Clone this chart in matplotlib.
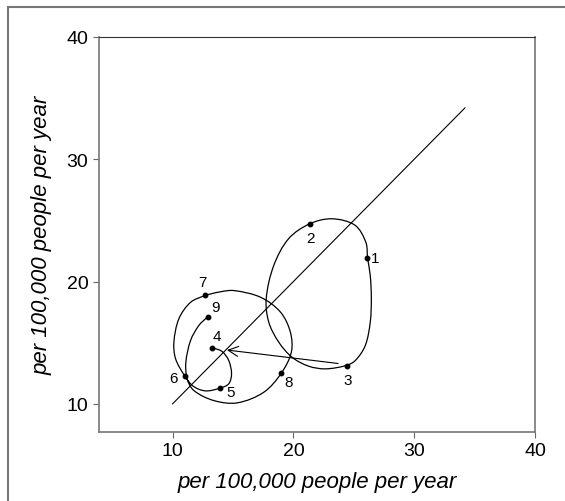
import numpy as np
import matplotlib
matplotlib.use('Agg')
import matplotlib.pyplot as plt
from matplotlib.path import Path
from matplotlib.patches import PathPatch
from matplotlib.lines import Line2D

plt.rcParams['font.family'] = ['Liberation Sans', 'DejaVu Sans']

# yearly points (labelled 1..9)
years = ['1', '2', '3', '4', '5', '6', '7', '8', '9']
rate_x = [26.1, 21.4, 24.4, 13.3, 13.9, 11.0, 12.7, 19.0, 12.9]
rate_y = [21.9, 24.7, 13.1, 14.6, 11.3, 12.3, 18.9, 12.5, 17.1]

# traced path through years 1-3 (closed loop)
loop1_x = [26.14, 26.0, 25.1, 23.2, 21.35, 19.6, 18.37, 17.75, 17.96, 18.79,
           19.9, 21.26, 22.64, 24.35, 25.12, 25.95, 26.36, 26.45, 26.36]
loop1_y = [21.91, 23.2, 24.6, 25.13, 24.72, 23.5, 21.3, 18.6, 16.68, 15.04,
           13.8, 13.08, 12.86, 13.13, 13.54, 14.77, 16.68, 18.6, 20.5]

# traced path through years 4-9
loop2_x = [13.33, 14.1, 14.65, 14.88, 14.65, 13.91, 12.73, 11.71, 10.99, 10.25,
           10.11, 10.52, 11.49, 12.73, 13.9, 15.07, 17.27, 18.93, 19.75, 19.83, 19.0,
           17.55, 15.35, 13.41, 11.76, 11.21, 11.1, 11.49, 12.17, 12.87]
loop2_y = [14.58, 14.28, 13.54, 12.45, 11.64, 11.28, 11.06, 11.44, 12.31, 13.68,
           15.04, 16.95, 18.3, 18.86, 19.15, 19.26, 18.72, 17.5, 15.86, 14.23, 12.51,
           10.95, 10.08, 10.27, 11.09, 12.04, 13.4, 15.18, 16.4, 17.09]

diag_x = [10, 34.2]
diag_y = [10, 34.2]

# jump from year 3 to year 4
jump_x = [23.7, 14.5]
jump_y = [13.3, 14.4]

# label offsets (points)
offsets = [(6, 0), (0, -10), (1, -10), (3, 8), (8, -3), (-8, -2), (-2, 9), (5, -6), (6, 7)]


def smooth_path(xs, ys, closed=False):
    # chord-length hermite spline through the traced points, as cubic beziers
    p = np.column_stack([xs, ys]).astype(float)
    n = len(p)
    tang = np.zeros_like(p)
    for i in range(n):
        if closed:
            prev, nxt = p[i - 1], p[(i + 1) % n]
        else:
            prev = p[max(i - 1, 0)]
            nxt = p[min(i + 1, n - 1)]
        d = np.linalg.norm(nxt - p[i]) + np.linalg.norm(p[i] - prev)
        tang[i] = (nxt - prev) / d
    verts = [p[0]]
    codes = [Path.MOVETO]
    nseg = n if closed else n - 1
    for i in range(nseg):
        a, b = p[i], p[(i + 1) % n]
        L = np.linalg.norm(b - a)
        verts += [a + tang[i] * L / 3, b - tang[(i + 1) % n] * L / 3, b]
        codes += [Path.CURVE4] * 3
    return Path(verts, codes)


fig = plt.figure(figsize=(5.65, 5.02), dpi=100)
ax = fig.add_axes([0.175, 0.1375, 0.772, 0.787])

ax.plot(diag_x, diag_y, color='black', lw=0.8)
ax.add_patch(PathPatch(smooth_path(loop1_x, loop1_y, closed=True), fill=False, lw=0.9, color='black'))
ax.add_patch(PathPatch(smooth_path(loop2_x, loop2_y), fill=False, lw=0.9, color='black'))
ax.annotate('', xy=(jump_x[1], jump_y[1]), xytext=(jump_x[0], jump_y[0]),
            arrowprops=dict(arrowstyle='->', lw=0.8, color='black', mutation_scale=18,
                            shrinkA=0, shrinkB=0))
ax.plot(rate_x, rate_y, 'o', color='black', ms=3.2, zorder=5)
for lab, x, y, off in zip(years, rate_x, rate_y, offsets):
    ax.annotate(lab, (x, y), xytext=off, textcoords='offset points',
                ha='center', va='center', fontsize=11)

ax.set_xlim(3.9, 40)
ax.set_ylim(7.7, 40)
ax.set_xticks([10, 20, 30, 40])
ax.set_yticks([10, 20, 30, 40])
ax.tick_params(direction='out', length=4.5, width=0.8, color='#666666', labelsize=14,
               pad=3, top=False, right=False)
for side in ['left', 'bottom', 'right']:
    ax.spines[side].set_color('#777777')
    ax.spines[side].set_linewidth(1.2)
ax.spines['top'].set_color('#333333')

ax.set_xlabel('per 100,000 people per year', fontsize=16, style='italic', labelpad=8)
ax.set_ylabel('per 100,000 people per year', fontsize=16, style='italic', labelpad=10)

# outer frame (left and top only visible)
fig.add_artist(Line2D([0.015, 0.015], [0, 0.985], transform=fig.transFigure, color='#777777', lw=1.5))
fig.add_artist(Line2D([0.015, 1.0], [0.985, 0.985], transform=fig.transFigure, color='#777777', lw=1.5))

fig.savefig('out.png', dpi=100)
